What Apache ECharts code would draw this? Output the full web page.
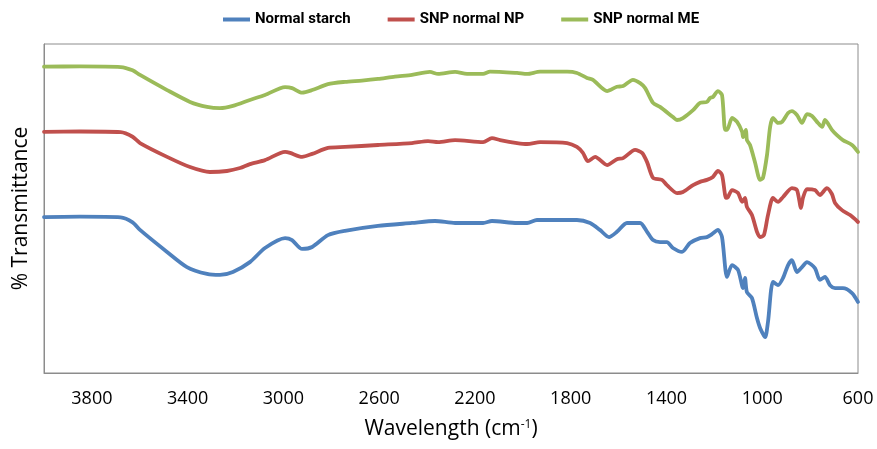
<!DOCTYPE html>
<html>
<head>
<meta charset="utf-8">
<title>FTIR spectra</title>
<script src="https://cdn.jsdelivr.net/npm/echarts@6/dist/echarts.min.js"></script>
<style>
  html, body { margin: 0; padding: 0; background: #ffffff; }
  #chart { width: 877px; height: 449px; }
</style>
</head>
<body>
<div id="chart"></div>
<script>
// Wavenumber (cm-1) and % transmittance (stacked, arbitrary offset) for each sample
const seriesNames = ['Normal starch', 'SNP normal NP', 'SNP normal ME'];
const xTicks = [3800, 3400, 3000, 2600, 2200, 1800, 1400, 1000, 600];

const starchWn = [4000, 3850, 3680, 3630, 3599, 3486, 3403, 3319, 3265, 3211, 3140, 3077, 2993, 2964, 2922, 2880, 2814, 2743, 2605, 2463, 2367, 2283, 2166, 2129, 2024, 1982, 1941, 1774, 1719, 1678, 1640, 1607, 1565, 1510, 1481, 1456, 1427, 1398, 1373, 1335, 1302, 1260, 1231, 1210, 1185, 1168, 1147, 1126, 1101, 1080, 1072, 1064, 1043, 1022, 1009, 988, 976, 955, 934, 913, 892, 876, 855, 834, 813, 780, 759, 738, 717, 696, 663, 625, 600];
const starchT  = [47.4, 47.5, 47.3, 45.8, 43.5, 36.8, 32.2, 30.1, 29.8, 30.7, 33.7, 38.0, 41.0, 40.4, 37.7, 38.3, 41.9, 43.2, 44.7, 45.6, 46.2, 45.6, 45.6, 46.2, 45.6, 45.6, 46.5, 46.5, 45.6, 43.5, 41.3, 42.9, 45.6, 45.6, 42.9, 40.4, 39.8, 39.8, 38.0, 36.8, 39.5, 41.0, 41.3, 42.2, 43.5, 41.3, 29.2, 32.8, 31.3, 25.8, 28.9, 24.6, 22.8, 16.7, 13.7, 10.9, 15.5, 27.7, 26.7, 28.9, 32.8, 34.3, 30.7, 32.2, 33.7, 31.9, 28.3, 29.2, 26.7, 25.8, 25.8, 24.3, 21.6];

const npWn = [4000, 3850, 3680, 3630, 3599, 3486, 3390, 3307, 3236, 3181, 3140, 3077, 2993, 2972, 2922, 2880, 2814, 2743, 2605, 2463, 2396, 2354, 2283, 2166, 2129, 2095, 2024, 1982, 1928, 1815, 1774, 1749, 1728, 1698, 1648, 1607, 1581, 1531, 1502, 1481, 1456, 1419, 1398, 1356, 1331, 1289, 1260, 1231, 1206, 1185, 1168, 1151, 1143, 1126, 1101, 1084, 1072, 1064, 1043, 1022, 1009, 993, 976, 955, 934, 913, 876, 855, 838, 830, 813, 780, 759, 730, 709, 696, 667, 633, 600];
const npT  = [73.3, 73.4, 73.2, 71.8, 69.9, 65.7, 62.6, 61.1, 61.4, 62.3, 63.5, 64.7, 67.2, 66.9, 65.7, 66.6, 68.4, 68.7, 69.3, 69.9, 70.5, 70.2, 70.8, 70.2, 71.4, 70.8, 69.9, 69.6, 70.2, 69.9, 68.7, 66.9, 64.4, 65.7, 63.2, 65.0, 65.3, 67.8, 66.9, 64.1, 59.3, 58.7, 57.1, 54.7, 55.0, 57.1, 58.1, 58.7, 59.6, 61.4, 60.2, 53.2, 53.5, 55.6, 54.7, 52.0, 53.2, 50.5, 48.0, 42.9, 41.3, 41.9, 48.0, 53.2, 52.0, 53.5, 56.2, 55.6, 50.2, 53.2, 55.9, 55.6, 54.1, 56.2, 54.4, 51.7, 49.5, 48.0, 45.9];

const meWn = [4000, 3850, 3680, 3630, 3599, 3486, 3390, 3319, 3265, 3211, 3140, 3077, 2993, 2964, 2922, 2880, 2814, 2743, 2672, 2605, 2534, 2463, 2388, 2354, 2283, 2233, 2166, 2137, 2024, 1982, 1928, 1815, 1774, 1732, 1707, 1648, 1607, 1581, 1540, 1510, 1489, 1456, 1427, 1373, 1356, 1331, 1289, 1260, 1231, 1218, 1206, 1185, 1168, 1155, 1147, 1126, 1105, 1084, 1080, 1068, 1064, 1051, 1030, 1009, 997, 980, 967, 955, 934, 917, 892, 876, 855, 834, 813, 792, 767, 750, 738, 709, 688, 663, 625, 600];
const meT  = [93.1, 93.2, 93.0, 92.0, 90.6, 86.0, 82.4, 80.9, 80.5, 81.2, 83.0, 84.5, 86.9, 86.6, 85.2, 86.0, 87.8, 88.5, 88.9, 89.4, 90.1, 90.6, 91.5, 90.9, 91.5, 90.9, 90.9, 91.6, 91.2, 90.9, 91.6, 91.6, 91.2, 89.7, 89.1, 85.7, 87.0, 87.2, 89.1, 88.1, 86.6, 82.1, 80.9, 77.8, 76.9, 77.5, 79.9, 82.1, 82.4, 83.6, 83.9, 85.7, 84.5, 73.9, 73.9, 77.5, 76.3, 73.3, 71.7, 73.9, 70.8, 69.3, 64.0, 58.7, 59.3, 66.3, 74.8, 77.5, 76.0, 76.3, 79.0, 79.6, 78.4, 76.0, 78.7, 78.1, 76.0, 74.8, 76.9, 73.9, 72.3, 70.8, 69.3, 67.2];

const seriesColors = ['#4F81BD', '#C0504D', '#9BBB59'];

function pairs(xs, ys) {
  return xs.map((x, i) => [x, ys[i]]);
}

const chart = echarts.init(document.getElementById('chart'), null, { renderer: 'canvas' });

const dataSets = [pairs(starchWn, starchT), pairs(npWn, npT), pairs(meWn, meT)];

chart.setOption({
  animation: false,
  backgroundColor: '#ffffff',
  color: seriesColors,
  grid: {
    left: 44, right: 19, top: 44, bottom: 76,
    show: true, borderColor: '#8c8c8c', borderWidth: 1, backgroundColor: 'transparent'
  },
  legend: {
    data: seriesNames,
    left: 218, top: 7,
    icon: 'rect', itemWidth: 27, itemHeight: 4, itemGap: 37,
    textStyle: {
      fontFamily: 'Roboto, "Open Sans", sans-serif',
      fontWeight: 'bold', fontSize: 15, color: '#000000'
    }
  },
  xAxis: {
    type: 'value',
    min: 600, max: 4000, interval: 400,
    inverse: true,
    name: 'Wavelength (cm{sup|-1})',
    nameLocation: 'middle', nameGap: 46,
    nameTextStyle: {
      fontFamily: '"Open Sans", sans-serif', fontSize: 21, color: '#000000',
      rich: { sup: { fontFamily: '"Open Sans", sans-serif', fontSize: 12, color: '#000000', verticalAlign: 'top', padding: [0, 0, 9, 0] } }
    },
    axisLine: { show: true, lineStyle: { color: '#8c8c8c', width: 1 } },
    axisTick: { show: false },
    splitLine: { show: false },
    axisLabel: {
      showMaxLabel: false, showMinLabel: true, margin: 17,
      fontFamily: '"Open Sans", sans-serif', fontSize: 18, color: '#000000',
      formatter: v => (xTicks.indexOf(v) >= 0 ? String(v) : '')
    }
  },
  yAxis: {
    type: 'value',
    min: 0, max: 100,
    name: '% Transmittance',
    nameLocation: 'middle', nameGap: 12,
    nameTextStyle: { fontFamily: '"Open Sans", sans-serif', fontSize: 21, color: '#000000' },
    axisLine: { show: true, lineStyle: { color: '#8c8c8c', width: 1 } },
    axisTick: { show: false },
    axisLabel: { show: false },
    splitLine: { show: false }
  },
  series: seriesNames.map((name, i) => ({
    name: name,
    type: 'line',
    data: dataSets[i],
    symbol: 'none',
    smooth: 0.25,
    lineStyle: { width: 3.8, color: seriesColors[i], join: 'round', cap: 'round' },
    itemStyle: { color: seriesColors[i] }
  }))
});
</script>
</body>
</html>
